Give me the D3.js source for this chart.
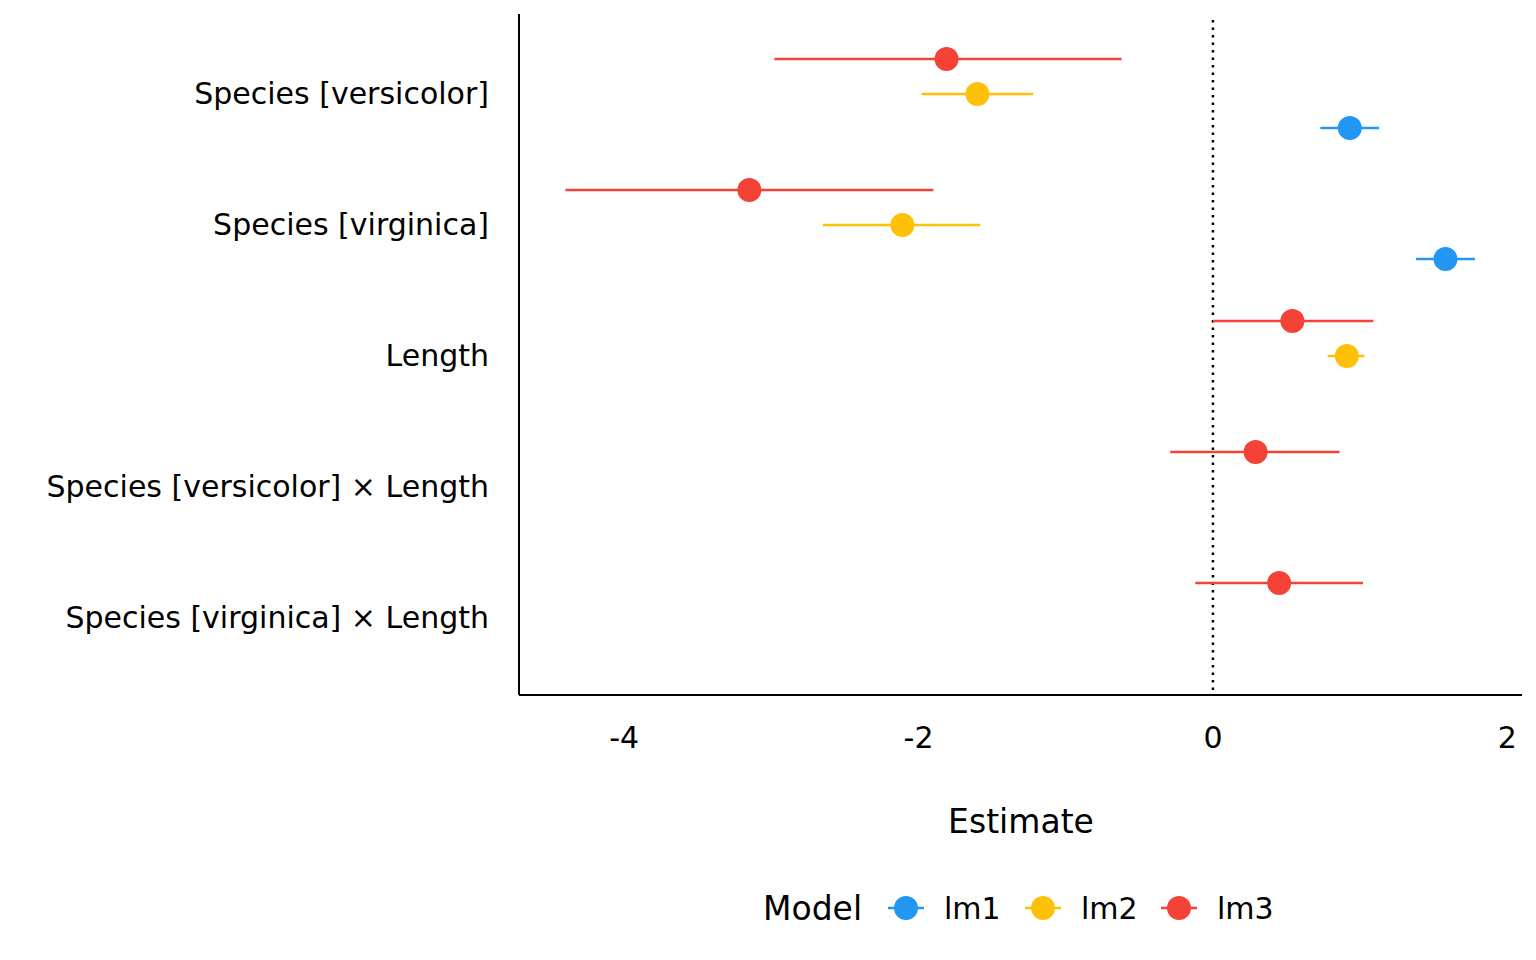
<!DOCTYPE html>
<html><head><meta charset="utf-8">
<script src="https://cdn.jsdelivr.net/npm/d3@7"></script>
<style>body{margin:0;background:#fff;font-family:"DejaVu Sans",sans-serif;}</style>
</head><body><svg id="chart" width="1536" height="960"></svg>
<script>
var terms = ["Species [versicolor]", "Species [virginica]", "Length",
	"Species [versicolor] × Length", "Species [virginica] × Length"];
var models = ["lm1", "lm2", "lm3"];
var colors = ["#2196F3", "#FFC107", "#F44336"];
var xTicks = [-4, -2, 0, 2];
// [term, estimate, low, high]
var lm1 = [[0, 0.93, 0.73, 1.13], [1, 1.58, 1.38, 1.78]];
var lm2 = [[0, -1.60, -1.98, -1.22], [1, -2.11, -2.65, -1.58], [2, 0.91, 0.78, 1.03]];
var lm3 = [[0, -1.81, -2.98, -0.62], [1, -3.15, -4.40, -1.90], [2, 0.54, 0.0, 1.09],
	[3, 0.29, -0.29, 0.86], [4, 0.45, -0.12, 1.02]];

var svg = d3.select("#chart");
var x = d3.scaleLinear().domain([-4.715, 2.1]).range([519, 1522]);
var y = d3.scalePoint().domain(terms).range([94, 618]);
var dodge = {lm1: 34, lm2: 0, lm3: -35};

svg.append("line").attr("x1", 519).attr("x2", 1522).attr("y1", 695).attr("y2", 695)
	.attr("stroke", "#000").attr("stroke-width", 2);
svg.append("line").attr("x1", 519).attr("x2", 519).attr("y1", 14).attr("y2", 695)
	.attr("stroke", "#000").attr("stroke-width", 2);
svg.append("line").attr("x1", x(0)).attr("x2", x(0)).attr("y1", 20).attr("y2", 695)
	.attr("stroke", "#000").attr("stroke-width", 2.5).attr("stroke-dasharray", "2.5,5");

svg.selectAll(".xt").data(xTicks).enter().append("text")
	.attr("x", function(d){ return x(d); }).attr("y", 748)
	.attr("text-anchor", "middle").attr("font-size", 30).text(function(d){ return d; });
svg.selectAll(".yt").data(terms).enter().append("text")
	.attr("x", 489).attr("y", function(d){ return y(d) + 10; })
	.attr("text-anchor", "end").attr("font-size", 30).text(function(d){ return d; });
svg.append("text").attr("x", 1021).attr("y", 833).attr("text-anchor", "middle")
	.attr("font-size", 33).text("Estimate");

[lm1, lm2, lm3].forEach(function(rows, i) {
	var m = models[i];
	var g = svg.append("g");
	rows.forEach(function(r) {
		var yy = y(terms[r[0]]) + dodge[m];
		g.append("line").attr("x1", x(r[2])).attr("x2", x(r[3])).attr("y1", yy).attr("y2", yy)
			.attr("stroke", colors[i]).attr("stroke-width", 2.5);
		g.append("circle").attr("cx", x(r[1])).attr("cy", yy).attr("r", 12).attr("fill", colors[i]);
	});
});

// legend
svg.append("text").attr("x", 763).attr("y", 920).attr("font-size", 33).text("Model");
var lx = [906, 1043, 1179];
models.forEach(function(m, i) {
	svg.append("line").attr("x1", lx[i] - 18).attr("x2", lx[i] + 18).attr("y1", 908).attr("y2", 908)
		.attr("stroke", colors[i]).attr("stroke-width", 2.5);
	svg.append("circle").attr("cx", lx[i]).attr("cy", 908).attr("r", 12).attr("fill", colors[i]);
	svg.append("text").attr("x", lx[i] + 38).attr("y", 919).attr("font-size", 30).text(m);
});
</script></body></html>
